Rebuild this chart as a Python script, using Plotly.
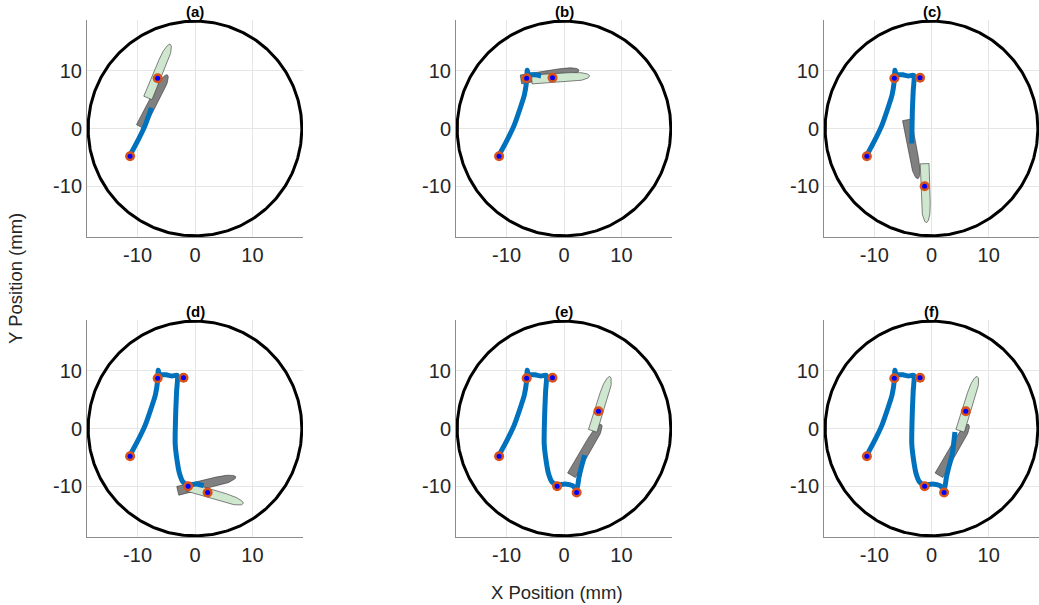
import numpy as np
import plotly.graph_objects as go

# ---------------- data ----------------
panel_labels = ["(a)", "(b)", "(c)", "(d)", "(e)", "(f)"]

# target points (mm)
point_x = [-11.3, -6.5, -2.0, -1.2, 2.2, 6.0]
point_y = [-4.8, 8.7, 8.8, -10.0, -11.1, 3.0]
points_shown = [2, 3, 4, 5, 6, 6]

# measured trajectory (mm)
traj_x = [-11.4, -10.0, -8.7, -7.6, -6.9, -6.5, -6.4, -6.2, -5.0, -4.0,
          -3.1, -3.2, -3.35, -3.45, -3.2, -2.7, -2.1, -1.3, 0.2, 1.5,
          2.0, 2.3, 2.6, 3.0, 3.6, 4.1]
traj_y = [-4.8, -2.2, 0.5, 3.6, 5.8, 8.3, 10.1, 9.4, 9.3, 9.1,
          9.2, 6.5, 3.0, -2.6, -5.0, -7.8, -9.25, -9.8, -9.6, -9.9,
          -10.4, -10.2, -8.5, -6.8, -4.6, -0.6]
traj_end = [4, 10, 14, 20, 25, 26]

# gray body: base (flat end) and tip (rounded end)
gray_base_x = [-9.5, -7.5, -4.3, -3.0, 1.3, 1.3]
gray_base_y = [0.3, 8.5, 1.5, -10.8, -8.1, -8.1]
gray_tip_x = [-4.8, 2.6, -2.4, 7.1, 6.5, 6.5]
gray_tip_y = [9.3, 10.1, -8.7, -8.4, 0.7, 0.7]
# green body
green_base_x = [-8.2, -5.6, -1.2, -1.3, 5.0, 5.0]
green_base_y = [5.3, 8.5, -6.1, -10.1, -0.4, -0.4]
green_tip_x = [-4.3, 4.45, -0.9, 8.4, 8.0, 8.0]
green_tip_y = [14.6, 9.1, -16.3, -13.0, 9.0, 9.0]
body_width = 1.55

arena_radius = 18.6
axis_lim = 18.8
tick_vals = [-10, 0, 10]
tick_text = ["-10", "0", "10"]

# ---------------- layout geometry (page px) ----------------
W, H = 1039, 605
col_px = [(87, 303), (456, 672), (824, 1039)]
row_px = [(20, 237), (320, 537)]

BLUE = "#0072BD"
ORANGE = "#D95319"
GRAY = "#808080"
GREEN = "#cfe6cf"
FONT = "Arial, Liberation Sans, sans-serif"


def fx(px):
    return px / W


def fy(py):
    return 1 - py / H


def body_polygon(bx, by, tx, ty, w, f=0.68, n=40):
    d = np.array([tx - bx, ty - by])
    L = np.hypot(*d)
    u = d / L
    nv = np.array([-u[1], u[0]])
    b = np.array([bx, by])
    c = b + f * L * u
    a = (1 - f) * L
    hw = w / 2
    t = np.linspace(-np.pi / 2, np.pi / 2, n)
    arc = c[None, :] + (a * np.cos(t))[:, None] * u + (hw * np.sin(t))[:, None] * nv
    pts = np.vstack([b - hw * nv, arc, b + hw * nv, b - hw * nv])
    return pts[:, 0], pts[:, 1]


fig = go.Figure()
theta = np.linspace(0, 2 * np.pi, 361)

for i in range(6):
    r, c = divmod(i, 3)
    xa = "x" if i == 0 else f"x{i+1}"
    ya = "y" if i == 0 else f"y{i+1}"
    # arena
    fig.add_trace(go.Scatter(x=arena_radius * np.cos(theta), y=arena_radius * np.sin(theta),
                             mode="lines", line=dict(color="black", width=3),
                             xaxis=xa, yaxis=ya, hoverinfo="skip", showlegend=False))
    # gray body
    gx, gy = body_polygon(gray_base_x[i], gray_base_y[i], gray_tip_x[i], gray_tip_y[i], body_width)
    fig.add_trace(go.Scatter(x=gx, y=gy, mode="lines", fill="toself", fillcolor=GRAY,
                             line=dict(color="#333333", width=0.6),
                             xaxis=xa, yaxis=ya, hoverinfo="skip", showlegend=False))
    # green body
    hx, hy = body_polygon(green_base_x[i], green_base_y[i], green_tip_x[i], green_tip_y[i], body_width)
    fig.add_trace(go.Scatter(x=hx, y=hy, mode="lines", fill="toself", fillcolor=GREEN,
                             line=dict(color="#333333", width=0.6),
                             xaxis=xa, yaxis=ya, hoverinfo="skip", showlegend=False))
    # trajectory
    n = traj_end[i]
    fig.add_trace(go.Scatter(x=traj_x[:n], y=traj_y[:n], mode="lines",
                             line=dict(color=BLUE, width=5, shape="spline", smoothing=0.6),
                             xaxis=xa, yaxis=ya, hoverinfo="skip", showlegend=False))
    # targets
    k = points_shown[i]
    fig.add_trace(go.Scatter(x=point_x[:k], y=point_y[:k], mode="markers",
                             marker=dict(color=ORANGE, size=10, line=dict(width=0)),
                             xaxis=xa, yaxis=ya, hoverinfo="skip", showlegend=False))
    fig.add_trace(go.Scatter(x=point_x[:k], y=point_y[:k], mode="markers",
                             marker=dict(color="#0000FF", size=5, line=dict(width=0)),
                             xaxis=xa, yaxis=ya, hoverinfo="skip", showlegend=False))

    x0, x1 = col_px[c]
    y0, y1 = row_px[r]
    axis_common = dict(range=[-axis_lim, axis_lim], tickvals=tick_vals, ticktext=tick_text,
                       showgrid=True, gridcolor="#e6e6e6", gridwidth=1,
                       zeroline=False, showline=True, linecolor="#8c8c8c", linewidth=1,
                       ticks="", tickfont=dict(family=FONT, size=20, color="#262626"),
                       fixedrange=True)
    fig.layout[f"xaxis{'' if i == 0 else i+1}"] = dict(
        domain=[max(fx(x0), 0), min(fx(x1), 1)], anchor=ya, **axis_common)
    fig.layout[f"yaxis{'' if i == 0 else i+1}"] = dict(
        domain=[fy(y1), fy(y0)], anchor=xa, **axis_common)
    fig.add_annotation(text=f"<b>{panel_labels[i]}</b>", x=fx((x0 + x1) / 2), y=fy(y0 - 9),
                       xref="paper", yref="paper", showarrow=False,
                       xanchor="center", yanchor="middle",
                       font=dict(family=FONT, size=15, color="black"))

fig.add_annotation(text="X Position (mm)", x=fx(557), y=fy(592), xref="paper", yref="paper",
                   showarrow=False, xanchor="center", yanchor="middle",
                   font=dict(family=FONT, size=18.5, color="#262626"))
fig.add_annotation(text="Y Position (mm)", x=fx(15), y=fy(279), xref="paper", yref="paper",
                   showarrow=False, textangle=-90, xanchor="center", yanchor="middle",
                   font=dict(family=FONT, size=18.5, color="#262626"))

fig.update_layout(width=W, height=H, margin=dict(l=0, r=0, t=0, b=0),
                  paper_bgcolor="white", plot_bgcolor="white", showlegend=False)

fig.write_html("out.html", config={"displayModeBar": False},
               post_script="document.body.style.margin='0';document.body.style.overflow='hidden';")
